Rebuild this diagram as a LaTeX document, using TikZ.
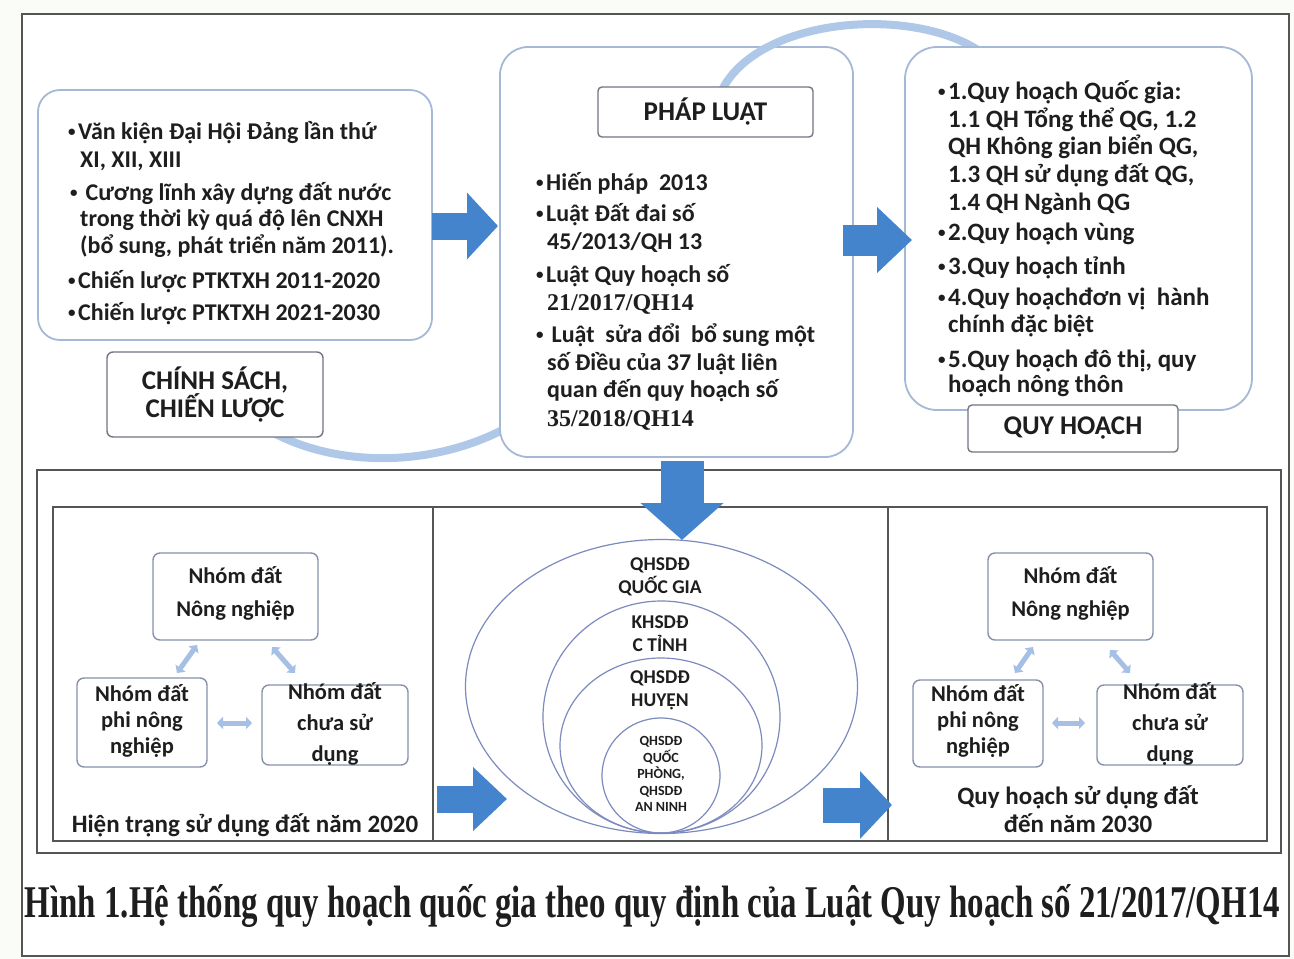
\documentclass[tikz,border=0pt]{standalone}
\usepackage{fontspec}
\setmainfont{Carlito}
\newfontfamily\tnr{Liberation Serif}
\usetikzlibrary{shapes.geometric,arrows.meta}
\definecolor{blkc}{RGB}{68,132,204}
\definecolor{arcb}{RGB}{176,200,232}
\definecolor{bbord}{RGB}{165,185,215}
\definecolor{lbord}{RGB}{115,118,130}
\definecolor{nbord}{RGB}{135,145,172}
\definecolor{ellc}{RGB}{125,138,190}
\definecolor{frm}{RGB}{85,85,85}
\definecolor{sarr}{RGB}{165,192,228}
\definecolor{txt}{RGB}{30,30,30}
\definecolor{bgc}{RGB}{250,252,248}
\newcommand\mybul{\makebox[10pt][l]{\raisebox{2.5pt}{\fontsize{15}{15}\selectfont •}}}
\begin{document}
\begin{tikzpicture}[x=1pt,y=-1pt,
  bigbox/.style={draw=bbord, line width=1.8pt, fill=white, rounded corners=#1, inner sep=0pt},
  lab/.style={draw=lbord, line width=1.4pt, fill=white, rounded corners=4pt, inner sep=0pt, align=center, text=txt, font=\bfseries\fontsize{27}{27}\selectfont},
  ln/.style={anchor=base west, inner sep=0pt, text=txt, font=\bfseries\fontsize{24}{28}\selectfont},
  nbox/.style={draw=nbord, line width=1.4pt, rounded corners=7pt, fill=white, inner sep=0pt},
  ntext/.style={align=center, inner sep=0pt, text=txt, font=\bfseries\fontsize{22.5}{#1}\selectfont},
  ell/.style={draw=ellc, line width=1.2pt, ellipse, inner sep=0pt},
  etext/.style={align=center, inner sep=0pt, text=txt, font=\bfseries\fontsize{19.5}{23}\selectfont},
  barrow/.style n args={3}{draw=blkc, line width=#1, -{Triangle[width=#2,length=#3]}},
  sarrow/.style={draw=sarr, line width=5pt, {Triangle[width=12pt,length=6pt]}-{Triangle[width=12pt,length=6pt]}},
  framel/.style={draw=frm, line width=2.2pt},
  arcl/.style={draw=arcb, line width=8pt}
]
\useasboundingbox (0,0) rectangle (1294,959);
\fill[bgc] (0,0) rectangle (1294,959);
\draw[framel, fill=white] (22,14) rectangle (1289,956);

% bottom arc (behind boxes)
\draw[arcl] (260,425) .. controls (330,470) and (440,470) .. (520,420);

% upper boxes
\node[bigbox=22pt, minimum width=394pt, minimum height=250pt] (lb) at (235,215) {};
\node[bigbox=28pt, minimum width=353pt, minimum height=410pt] (mb) at (676.5,252) {};
\draw[arcl] (722,90) .. controls (760,15) and (920,5) .. (985,55);
\node[lab, minimum width=215pt, minimum height=50pt] (pl) at (705.5,112) {PHÁP LUẬT};
\node[bigbox=32pt, minimum width=347pt, minimum height=363pt] (rb) at (1078.5,228.5) {};
\node[lab, minimum width=210pt, minimum height=47pt] (qh) at (1073,428.5) {QUY HOẠCH};
\node[lab, minimum width=216pt, minimum height=85pt, rounded corners=6pt] (cs) at (215,394.5) {CHÍNH SÁCH,\\CHIẾN LƯỢC};

% block arrows upper
\coordinate (a1s) at (432,226); \coordinate (a1e) at (498,226);
\draw[barrow={27pt}{65pt}{31pt}] (a1s) -- (a1e);
\coordinate (a2s) at (843,240); \coordinate (a2e) at (912,240);
\draw[barrow={31pt}{64pt}{35pt}] (a2s) -- (a2e);

% left list
\foreach \nm/\xx/\yy/\t in {
  l1/68/139/{\mybul Văn kiện Đại Hội Đảng lần thứ},
  l2/80/167/{XI, XII, XIII},
  l3/70/200/{\mybul\ Cương lĩnh xây dựng đất nước},
  l4/80/226/{trong thời kỳ quá độ lên CNXH},
  l5/80/253/{(bổ sung, phát triển năm 2011).},
  l6/68/288/{\mybul Chiến lược PTKTXH 2011-2020},
  l7/68/320/{\mybul Chiến lược PTKTXH 2021-2030}}
  {\node[ln] (\nm) at (\xx,\yy) {\t};}

% middle list
\foreach \nm/\xx/\yy/\t in {
  m1/536/190/{\mybul Hiến pháp\ \ 2013},
  m2/536/221/{\mybul Luật Đất đai số},
  m3/547/249/{45/2013/QH 13},
  m4/536/282/{\mybul Luật Quy hoạch số},
  m5/547/310/{{\tnr 21/2017/QH14}},
  m6/536/342/{\mybul\ Luật\ \ sửa đổi\ \ bổ sung một},
  m7/547/370/{số Điều của 37 luật liên},
  m8/547/397/{quan đến quy hoạch số},
  m9/547/426/{{\tnr 35/2018/QH14}}}
  {\node[ln] (\nm) at (\xx,\yy) {\t};}

% right list
\foreach \nm/\xx/\yy/\t in {
  r1/938/99/{\mybul 1.Quy hoạch Quốc gia:},
  r2/948/127/{1.1 QH Tổng thể QG, 1.2},
  r3/948/154/{QH Không gian biển QG,},
  r4/948/182/{1.3 QH sử dụng đất QG,},
  r5/948/210/{1.4 QH Ngành QG},
  r6/938/240/{\mybul 2.Quy hoạch vùng},
  r7/938/274/{\mybul 3.Quy hoạch tỉnh},
  r8/938/305/{\mybul 4.Quy hoạchđơn vị\ \ hành},
  r9/948/332/{chính đặc biệt},
  r10/938/367/{\mybul 5.Quy hoạch đô thị, quy},
  r11/948/392/{hoạch nông thôn}}
  {\node[ln, font=\bfseries\fontsize{25}{28}\selectfont] (\nm) at (\xx,\yy) {\t};}

% lower section frames
\draw[framel] (37,470) rectangle (1281,853);
\draw[framel] (53,507) rectangle (1267,841);
\draw[framel] (433,507) -- (433,841);
\draw[framel] (888,507) -- (888,841);

% ellipses
\node[ell, minimum width=392pt, minimum height=294pt] (e1) at (661.5,686.5) {};
\node[ell, minimum width=237pt, minimum height=232pt] (e2) at (661.5,717) {};
\node[ell, minimum width=202pt, minimum height=175pt] (e3) at (661,745.5) {};
\node[ell, minimum width=118pt, minimum height=115pt] (e4) at (661,775.5) {};
\node[etext] (t1) at (660,577) {QHSDĐ\\QUỐC GIA};
\node[etext] (t2) at (660,634) {KHSDĐ\\C TỈNH};
\node[etext] (t3) at (660,690.5) {QHSDĐ\\HUYỆN};
\node[etext, font=\bfseries\fontsize{14}{16.5}\selectfont] (t4) at (661,774) {QHSDĐ\\QUỐC\\PHÒNG,\\QHSDĐ\\AN NINH};

% down arrow
\coordinate (a3s) at (682,461); \coordinate (a3e) at (682,540);
\draw[barrow={43pt}{81pt}{37pt}] (a3s) -- (a3e);
% lower block arrows
\coordinate (a4s) at (437,799); \coordinate (a4e) at (507,799);
\draw[barrow={27pt}{62pt}{34pt}] (a4s) -- (a4e);
\coordinate (a5s) at (823,805); \coordinate (a5e) at (892,805);
\draw[barrow={35pt}{66pt}{32pt}] (a5s) -- (a5e);

% left panel
\node[nbox, minimum width=165pt, minimum height=87pt] (la) at (235.5,596.5) {};
\node[nbox, minimum width=130pt, minimum height=89pt] (lp) at (142,722.5) {};
\node[nbox, minimum width=146pt, minimum height=80pt] (lc) at (335,725) {};
\node[ntext=33] (lat) at (235.5,594) {Nhóm đất\\Nông nghiệp};
\node[ntext=26] (lpt) at (142,721) {Nhóm đất\\phi nông\\nghiệp};
\node[ntext=31] (lct) at (335,724) {Nhóm đất\\chưa sử\\dụng};
\coordinate (s1a) at (197,645); \coordinate (s1b) at (177,673);
\coordinate (s2a) at (272,647); \coordinate (s2b) at (295,673);
\coordinate (s3a) at (217,723); \coordinate (s3b) at (252,723);
\draw[sarrow] (s1a) -- (s1b);
\draw[sarrow] (s2a) -- (s2b);
\draw[sarrow] (s3a) -- (s3b);
\node[inner sep=0pt, text=txt, font=\bfseries\fontsize{25}{28}\selectfont] (lcap) at (245,825) {Hiện trạng sử dụng đất năm 2020};

% right panel
\node[nbox, minimum width=165pt, minimum height=87pt] (ra) at (1070.5,596.5) {};
\node[nbox, minimum width=130pt, minimum height=87pt] (rp) at (978,723.5) {};
\node[nbox, minimum width=146pt, minimum height=80pt] (rc) at (1170,725) {};
\node[ntext=33] (rat) at (1070.5,594) {Nhóm đất\\Nông nghiệp};
\node[ntext=26] (rpt) at (978,721) {Nhóm đất\\phi nông\\nghiệp};
\node[ntext=31] (rct) at (1170,724) {Nhóm đất\\chưa sử\\dụng};
\coordinate (s4a) at (1033,647); \coordinate (s4b) at (1015,673);
\coordinate (s5a) at (1110,650); \coordinate (s5b) at (1130,673);
\coordinate (s6a) at (1052,723); \coordinate (s6b) at (1085,723);
\draw[sarrow] (s4a) -- (s4b);
\draw[sarrow] (s5a) -- (s5b);
\draw[sarrow] (s6a) -- (s6b);
\node[inner sep=0pt, align=center, text=txt, font=\bfseries\fontsize{25}{28}\selectfont] (rcap) at (1078,809) {Quy hoạch sử dụng đất\\đến năm 2030};

% caption
\node[anchor=base, inner sep=0pt, text=txt] (cap) at (652.5,917) {\resizebox{1255pt}{33pt}{\tnr\bfseries Hình 1.Hệ thống quy hoạch quốc gia theo quy định của Luật Quy hoạch số 21/2017/QH14}};
\end{tikzpicture}
\end{document}
